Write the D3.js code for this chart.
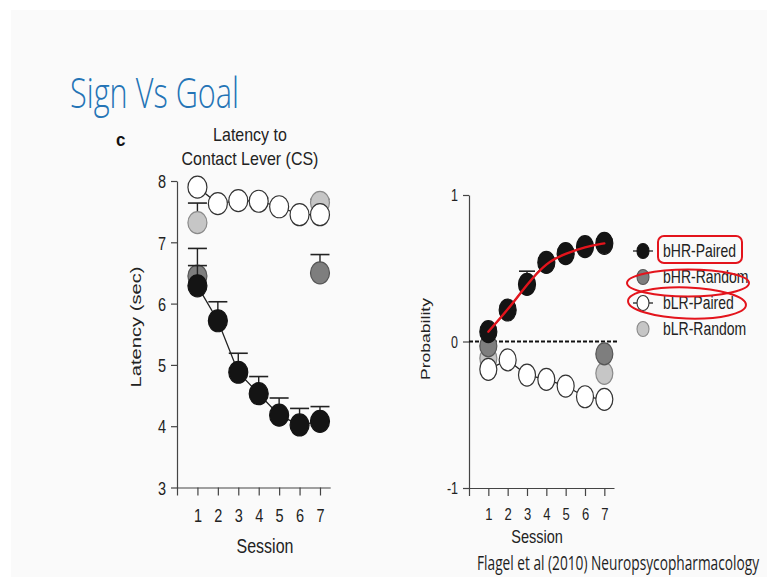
<!DOCTYPE html>
<html>
<head>
<meta charset="utf-8">
<script src="https://cdn.jsdelivr.net/npm/d3@7"></script>
<style>
  html, body { margin: 0; padding: 0; background: #ffffff; }
  svg { display: block; }
</style>
</head>
<body>
<svg id="chart" width="767" height="577"></svg>
<script>
// ---- data ----
const sessions = [1, 2, 3, 4, 5, 6, 7];
const randomSessions = [1, 7];

// Latency to contact lever (sec)
const latHRPaired    = [6.29, 5.72, 4.88, 4.53, 4.18, 4.02, 4.08];
const latHRPairedErr = [0.33, 0.31, 0.31, 0.28, 0.28, 0.27, 0.24];
const latHRRandom    = [6.45, 6.50];
const latHRRandomErr = [0.45, 0.30];
const latLRPaired    = [7.90, 7.63, 7.68, 7.67, 7.58, 7.45, 7.45];
const latLRPairedErr = [0.05, 0.05, 0.05, 0.05, 0.05, 0.05, 0.05];
const latLRRandom    = [7.32, 7.65];
const latLRRandomErr = [0.32, 0.05];

// Probability of contacting lever (difference score)
const probHRPaired    = [0.067, 0.215, 0.39, 0.54, 0.60, 0.647, 0.67];
const probHRPairedErr = [0.03, 0.03, 0.09, 0.03, 0.03, 0.03, 0.03];
const probHRRandom    = [-0.03, -0.085];
const probLRPaired    = [-0.19, -0.126, -0.229, -0.258, -0.304, -0.377, -0.395];
const probLRRandom    = [-0.115, -0.217];

const latencyTicks = [3, 4, 5, 6, 7, 8];
const probTicks = [-1, 0, 1];
const sessionTicks = [0, 1, 2, 3, 4, 5, 6, 7];

const groups = ["bHR-Paired", "bHR-Random", "bLR-Paired", "bLR-Random"];

// ---- style ----
const SY = 1.3;                      // vertical stretch of the figure text
const FONT = "'Liberation Sans', Arial, Helvetica, sans-serif";
const SLIDE_FONT = "'Open Sans', 'Noto Sans', sans-serif";
const INK = "#222";
const AXIS = "#444";
const fills = {
  "bHR-Paired": "#141414",
  "bHR-Random": "#7e7e7e",
  "bLR-Paired": "#ffffff",
  "bLR-Random": "#c6c6c6"
};
const strokes = {
  "bHR-Paired": "#141414",
  "bHR-Random": "#555",
  "bLR-Paired": "#333",
  "bLR-Random": "#8a8a8a"
};
const RED = "#e3141c";

const svg = d3.select("#chart");

// slide background
svg.append("rect").attr("x", 0).attr("y", 0).attr("width", 767).attr("height", 577).attr("fill", "#ffffff");
svg.append("rect").attr("x", 11).attr("y", 10).attr("width", 756).attr("height", 567).attr("fill", "#fafafa");

function stext(g, x, y, str, size, opts = {}) {
  const t = g.append("text")
    .attr("transform", `translate(${x},${y}) scale(1,${opts.sy || SY})` + (opts.rotate ? ` rotate(${opts.rotate})` : ""))
    .attr("font-family", opts.family || FONT)
    .attr("font-size", size)
    .attr("font-weight", opts.weight || "normal")
    .attr("fill", opts.fill || INK)
    .attr("text-anchor", opts.anchor || "start")
    .text(str);
  if (opts.length) t.attr("textLength", opts.length).attr("lengthAdjust", "spacingAndGlyphs");
  return t;
}

// slide title and citation
stext(svg, 70, 107.5, "Sign Vs Goal", 32, { family: SLIDE_FONT, weight: 300, fill: "#2474b6", length: 169 });
stext(svg, 477, 570, "Flagel et al (2010) Neuropsycopharmacology", 13, { family: SLIDE_FONT, fill: "#1e1e1e", sy: 1.5, length: 282 });

const intFormat = d => String(d);

function styleAxis(g, fontSize, labelY) {
  g.select(".domain").attr("stroke", AXIS).attr("stroke-width", 1.2);
  g.selectAll(".tick line").attr("stroke", AXIS).attr("stroke-width", 1.2);
  g.selectAll(".tick text")
    .attr("font-family", FONT)
    .attr("font-size", fontSize)
    .attr("fill", INK)
    .attr("transform", `scale(1,${SY})`);
  if (labelY !== undefined) {
    g.selectAll(".tick text").attr("y", labelY).attr("dy", 0);
  }
}

function drawPanel(cfg) {
  const g = svg.append("g");
  const { x, y, rx, ry, capW } = cfg;

  // axes
  const ax = g.append("g").attr("transform", `translate(0,${y.range()[0]})`)
    .call(d3.axisBottom(x).tickValues(sessionTicks).tickSize(8).tickSizeOuter(0)
      .tickFormat(d => d === 0 ? "" : intFormat(d)));
  styleAxis(ax, cfg.xTickSize, cfg.xLabelOffset / SY);

  const ay = g.append("g").attr("transform", `translate(${x.range()[0]},0)`)
    .call(d3.axisLeft(y).tickValues(cfg.yTicks).tickSize(6).tickPadding(5).tickSizeOuter(0)
      .tickFormat(intFormat));
  styleAxis(ay, cfg.yTickSize);
  ay.selectAll(".tick text").attr("dy", "0.36em");

  if (cfg.zeroLine) {
    g.append("line")
      .attr("x1", x.range()[0]).attr("x2", x.range()[1] + 3)
      .attr("y1", y(0)).attr("y2", y(0))
      .attr("stroke", "#111").attr("stroke-width", 2.2)
      .attr("stroke-dasharray", "4,2");
  }

  // series in back-to-front order
  cfg.series.forEach(s => {
    const pts = s.xs.map((d, i) => ({ s: d, v: s.vals[i], e: s.errs ? s.errs[i] : 0 }));
    const sg = g.append("g");
    if (s.connect) {
      sg.append("path")
        .attr("d", d3.line().x(d => x(d.s)).y(d => y(d.v))(pts))
        .attr("fill", "none").attr("stroke", INK).attr("stroke-width", 1.3);
    }
    // upward error bars
    const eb = sg.selectAll(".eb").data(pts.filter(d => d.e > 0)).join("g");
    eb.append("line")
      .attr("x1", d => x(d.s)).attr("x2", d => x(d.s))
      .attr("y1", d => y(d.v)).attr("y2", d => y(d.v + d.e))
      .attr("stroke", INK).attr("stroke-width", 1.4);
    eb.append("line")
      .attr("x1", d => x(d.s) - capW / 2).attr("x2", d => x(d.s) + capW / 2)
      .attr("y1", d => y(d.v + d.e)).attr("y2", d => y(d.v + d.e))
      .attr("stroke", INK).attr("stroke-width", 1.6);
    sg.selectAll("ellipse").data(pts).join("ellipse")
      .attr("cx", d => x(d.s)).attr("cy", d => y(d.v))
      .attr("rx", rx).attr("ry", ry)
      .attr("fill", fills[s.name]).attr("stroke", strokes[s.name]).attr("stroke-width", 1.2);
  });

  // titles
  stext(g, cfg.sessionX, cfg.sessionY, "Session", cfg.sessionSize, { anchor: "middle" });
  stext(g, cfg.yLabelX, cfg.yLabelY, cfg.yLabel, cfg.yLabelSize, { anchor: "middle", rotate: -90 });
  return g;
}

// ---- panel c: latency ----
const xL = d3.scaleLinear().domain([0, 7.5]).range([177, 330.2]);
const yL = d3.scaleLinear().domain([3, 8]).range([487.5, 181]);

drawPanel({
  x: xL, y: yL, rx: 9.5, ry: 11, capW: 19,
  yTicks: latencyTicks, xTickSize: 14.5, yTickSize: 14.5, xLabelOffset: 34.5,
  sessionX: 265, sessionY: 553, sessionSize: 16,
  yLabel: "Latency (sec)", yLabelX: 141, yLabelY: 327, yLabelSize: 15.5,
  series: [
    { name: "bLR-Random", xs: randomSessions, vals: latLRRandom, errs: latLRRandomErr },
    { name: "bLR-Paired", xs: sessions, vals: latLRPaired, errs: latLRPairedErr, connect: true },
    { name: "bHR-Random", xs: randomSessions, vals: latHRRandom, errs: latHRRandomErr },
    { name: "bHR-Paired", xs: sessions, vals: latHRPaired, errs: latHRPairedErr, connect: true }
  ]
});

stext(svg, 250, 140.5, "Latency to", 16, { anchor: "middle", sy: 1.15 });
stext(svg, 250, 164.5, "Contact Lever (CS)", 16, { anchor: "middle", sy: 1.15 });
stext(svg, 116, 146, "c", 17, { weight: "bold", sy: 1.1, fill: "#111" });

// ---- probability panel ----
const xR = d3.scaleLinear().domain([0, 7.5]).range([469, 614]);
const yR = d3.scaleLinear().domain([-1, 1]).range([488, 195]);

const right = drawPanel({
  x: xR, y: yR, rx: 8.5, ry: 11, capW: 16,
  yTicks: probTicks, xTickSize: 13, yTickSize: 12.5, xLabelOffset: 32,
  sessionX: 537, sessionY: 543, sessionSize: 14.5,
  yLabel: "Probability", yLabelX: 430, yLabelY: 339, yLabelSize: 13.5,
  zeroLine: true,
  series: [
    { name: "bLR-Random", xs: randomSessions, vals: probLRRandom },
    { name: "bLR-Paired", xs: sessions, vals: probLRPaired, connect: true },
    { name: "bHR-Random", xs: randomSessions, vals: probHRRandom },
    { name: "bHR-Paired", xs: sessions, vals: probHRPaired, errs: probHRPairedErr, connect: true }
  ]
});

// red trend stroke over the bHR-Paired acquisition curve
right.append("path")
  .attr("d", d3.line().curve(d3.curveBasis)
    .x((d, i) => xR(sessions[i])).y(d => yR(d))(probHRPaired))
  .attr("fill", "none").attr("stroke", RED).attr("stroke-width", 2.4)
  .attr("stroke-linecap", "round");

// ---- legend ----
const legend = svg.append("g");
const legX = 643, legY0 = 251, legStep = 26;
groups.forEach((name, i) => {
  const cy = legY0 + i * legStep;
  if (name.endsWith("Paired")) {
    legend.append("line").attr("x1", legX - 10).attr("x2", legX + 10)
      .attr("y1", cy).attr("y2", cy).attr("stroke", INK).attr("stroke-width", 1.3);
  }
  legend.append("ellipse").attr("cx", legX).attr("cy", cy).attr("rx", 6).attr("ry", 7.5)
    .attr("fill", fills[name]).attr("stroke", strokes[name]).attr("stroke-width", 1.1);
  stext(legend, legX + 20, cy + 6.3, name, 14);
});

// red highlight marks around legend entries
const marks = svg.append("g").attr("fill", "none").attr("stroke", RED).attr("stroke-width", 2);
marks.append("rect").attr("x", 658).attr("y", 236).attr("width", 84).attr("height", 27).attr("rx", 6);
marks.append("ellipse").attr("cx", 688).attr("cy", 283).attr("rx", 61).attr("ry", 13.5);
marks.append("ellipse").attr("cx", 687).attr("cy", 303).attr("rx", 59).attr("ry", 15.5)
  .attr("transform", "rotate(2,687,303)");
</script>
</body>
</html>
